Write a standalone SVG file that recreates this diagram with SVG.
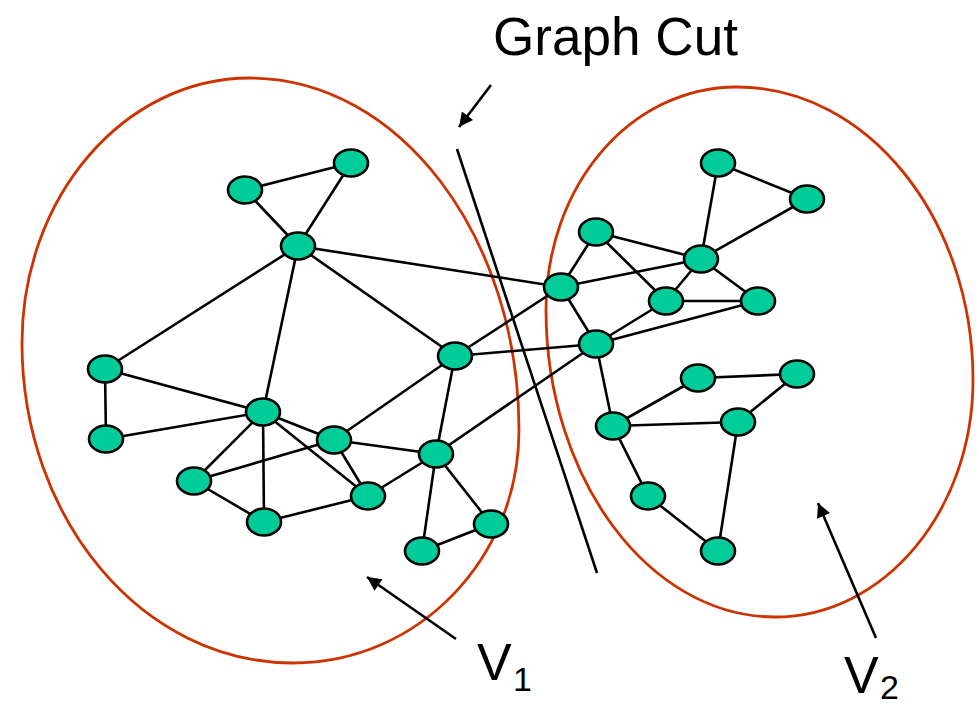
<svg xmlns="http://www.w3.org/2000/svg" width="979" height="708" viewBox="0 0 979 708">
<defs>
<style>
.n{fill:#00CC99;stroke:#000;stroke-width:2.6}
.e{stroke:#000;stroke-width:2.6;fill:none}
.set{fill:none;stroke:#CC3300;stroke-width:2.8}
.lbl{font-family:"Comic Sans MS","Liberation Sans",sans-serif;fill:#000}
</style>
<marker id="arr" viewBox="0 0 10 10" markerWidth="16" markerHeight="14" refX="10" refY="5" orient="auto" markerUnits="userSpaceOnUse">
<path d="M0,0 L10,5 L0,10 z" fill="#000"/>
</marker>
</defs>
<rect width="979" height="708" fill="#fff"/>

<g id="sets">
<path id="V1set" class="set" d="M250,78 C399,78 519,236 519,430 C519,559 418,663 293,663 C143,663 22,520 22,343 C22,197 124,78 250,78 Z"/>
<path id="V2set" class="set" d="M737,87 C867,87 973,218 973,380 C973,511 884,617 775,617 C649,617 546,478 546,310 C546,187 629,87 737,87 Z"/>
</g>

<g id="connectors">
<line class="e" x1="245" y1="190" x2="351" y2="163"/>
<line class="e" x1="245" y1="190" x2="298" y2="246"/>
<line class="e" x1="351" y1="163" x2="298" y2="246"/>
<line class="e" x1="298" y1="246" x2="105" y2="369"/>
<line class="e" x1="298" y1="246" x2="263" y2="412"/>
<line class="e" x1="298" y1="246" x2="455" y2="356"/>
<line class="e" x1="298" y1="246" x2="561" y2="287"/>
<line class="e" x1="105" y1="369" x2="106" y2="439"/>
<line class="e" x1="105" y1="369" x2="263" y2="412"/>
<line class="e" x1="106" y1="439" x2="263" y2="412"/>
<line class="e" x1="263" y1="412" x2="334" y2="440"/>
<line class="e" x1="263" y1="412" x2="194" y2="481"/>
<line class="e" x1="263" y1="412" x2="264" y2="522"/>
<line class="e" x1="263" y1="412" x2="368" y2="496"/>
<line class="e" x1="194" y1="481" x2="334" y2="440"/>
<line class="e" x1="194" y1="481" x2="264" y2="522"/>
<line class="e" x1="264" y1="522" x2="368" y2="496"/>
<line class="e" x1="334" y1="440" x2="368" y2="496"/>
<line class="e" x1="334" y1="440" x2="436" y2="454"/>
<line class="e" x1="334" y1="440" x2="455" y2="356"/>
<line class="e" x1="368" y1="496" x2="436" y2="454"/>
<line class="e" x1="455" y1="356" x2="436" y2="454"/>
<line class="e" x1="455" y1="356" x2="561" y2="287"/>
<line class="e" x1="455" y1="356" x2="596" y2="344"/>
<line class="e" x1="436" y1="454" x2="596" y2="344"/>
<line class="e" x1="436" y1="454" x2="491" y2="524"/>
<line class="e" x1="436" y1="454" x2="422" y2="551"/>
<line class="e" x1="491" y1="524" x2="422" y2="551"/>
<line class="e" x1="718" y1="163" x2="807" y2="199"/>
<line class="e" x1="718" y1="163" x2="701" y2="259"/>
<line class="e" x1="807" y1="199" x2="701" y2="259"/>
<line class="e" x1="596" y1="232" x2="701" y2="259"/>
<line class="e" x1="596" y1="232" x2="561" y2="287"/>
<line class="e" x1="596" y1="232" x2="666" y2="301"/>
<line class="e" x1="561" y1="287" x2="701" y2="259"/>
<line class="e" x1="701" y1="259" x2="666" y2="301"/>
<line class="e" x1="701" y1="259" x2="758" y2="301"/>
<line class="e" x1="666" y1="301" x2="758" y2="301"/>
<line class="e" x1="666" y1="301" x2="596" y2="344"/>
<line class="e" x1="596" y1="344" x2="758" y2="301"/>
<line class="e" x1="561" y1="287" x2="596" y2="344"/>
<line class="e" x1="596" y1="344" x2="613" y2="426"/>
<line class="e" x1="613" y1="426" x2="698" y2="378"/>
<line class="e" x1="698" y1="378" x2="797" y2="374"/>
<line class="e" x1="613" y1="426" x2="738" y2="422"/>
<line class="e" x1="738" y1="422" x2="797" y2="374"/>
<line class="e" x1="738" y1="422" x2="718" y2="551"/>
<line class="e" x1="613" y1="426" x2="648" y2="496"/>
<line class="e" x1="648" y1="496" x2="718" y2="551"/>
</g>

<g id="nodes">
<g id="nA"><ellipse class="n" cx="245" cy="190" rx="17" ry="13.5"/></g>
<g id="nB"><ellipse class="n" cx="351" cy="163" rx="17" ry="13.5"/></g>
<g id="nC"><ellipse class="n" cx="298" cy="246" rx="17" ry="13.5"/></g>
<g id="nD"><ellipse class="n" cx="105" cy="369" rx="17" ry="13.5"/></g>
<g id="nE"><ellipse class="n" cx="106" cy="439" rx="17" ry="13.5"/></g>
<g id="nF"><ellipse class="n" cx="263" cy="412" rx="17" ry="13.5"/></g>
<g id="nG"><ellipse class="n" cx="334" cy="440" rx="17" ry="13.5"/></g>
<g id="nH"><ellipse class="n" cx="194" cy="481" rx="17" ry="13.5"/></g>
<g id="nI"><ellipse class="n" cx="264" cy="522" rx="17" ry="13.5"/></g>
<g id="nJ"><ellipse class="n" cx="368" cy="496" rx="17" ry="13.5"/></g>
<g id="nK"><ellipse class="n" cx="455" cy="356" rx="17" ry="13.5"/></g>
<g id="nL"><ellipse class="n" cx="436" cy="454" rx="17" ry="13.5"/></g>
<g id="nM"><ellipse class="n" cx="491" cy="524" rx="17" ry="13.5"/></g>
<g id="nN"><ellipse class="n" cx="422" cy="551" rx="17" ry="13.5"/></g>
<g id="nP"><ellipse class="n" cx="718" cy="163" rx="17" ry="13.5"/></g>
<g id="nQ"><ellipse class="n" cx="807" cy="199" rx="17" ry="13.5"/></g>
<g id="nR"><ellipse class="n" cx="596" cy="232" rx="17" ry="13.5"/></g>
<g id="nS"><ellipse class="n" cx="701" cy="259" rx="17" ry="13.5"/></g>
<g id="nT"><ellipse class="n" cx="561" cy="287" rx="17" ry="13.5"/></g>
<g id="nU"><ellipse class="n" cx="666" cy="301" rx="17" ry="13.5"/></g>
<g id="nW"><ellipse class="n" cx="758" cy="301" rx="17" ry="13.5"/></g>
<g id="nX"><ellipse class="n" cx="596" cy="344" rx="17" ry="13.5"/></g>
<g id="nY"><ellipse class="n" cx="698" cy="378" rx="17" ry="13.5"/></g>
<g id="nZ"><ellipse class="n" cx="797" cy="374" rx="17" ry="13.5"/></g>
<g id="nAA"><ellipse class="n" cx="613" cy="426" rx="17" ry="13.5"/></g>
<g id="nAB"><ellipse class="n" cx="738" cy="422" rx="17" ry="13.5"/></g>
<g id="nAC"><ellipse class="n" cx="648" cy="496" rx="17" ry="13.5"/></g>
<g id="nAD"><ellipse class="n" cx="718" cy="551" rx="17" ry="13.5"/></g>
</g>

<g id="cut">
<line class="e" x1="457" y1="149" x2="597" y2="573"/>
</g>

<g id="annotations">
<line class="e" x1="491" y1="85" x2="459" y2="127" marker-end="url(#arr)"/>
<line class="e" x1="456" y1="639" x2="367" y2="577" marker-end="url(#arr)"/>
<line class="e" x1="876" y1="638" x2="818" y2="503" marker-end="url(#arr)"/>
<text class="lbl" x="493" y="55" font-size="54" textLength="245" lengthAdjust="spacingAndGlyphs">Graph Cut</text>
<text class="lbl" x="477" y="680" font-size="52">V</text>
<text class="lbl" x="513" y="691" font-size="34">1</text>
<text class="lbl" x="844" y="693" font-size="52">V</text>
<text class="lbl" x="880" y="699" font-size="34">2</text>
</g>
</svg>
